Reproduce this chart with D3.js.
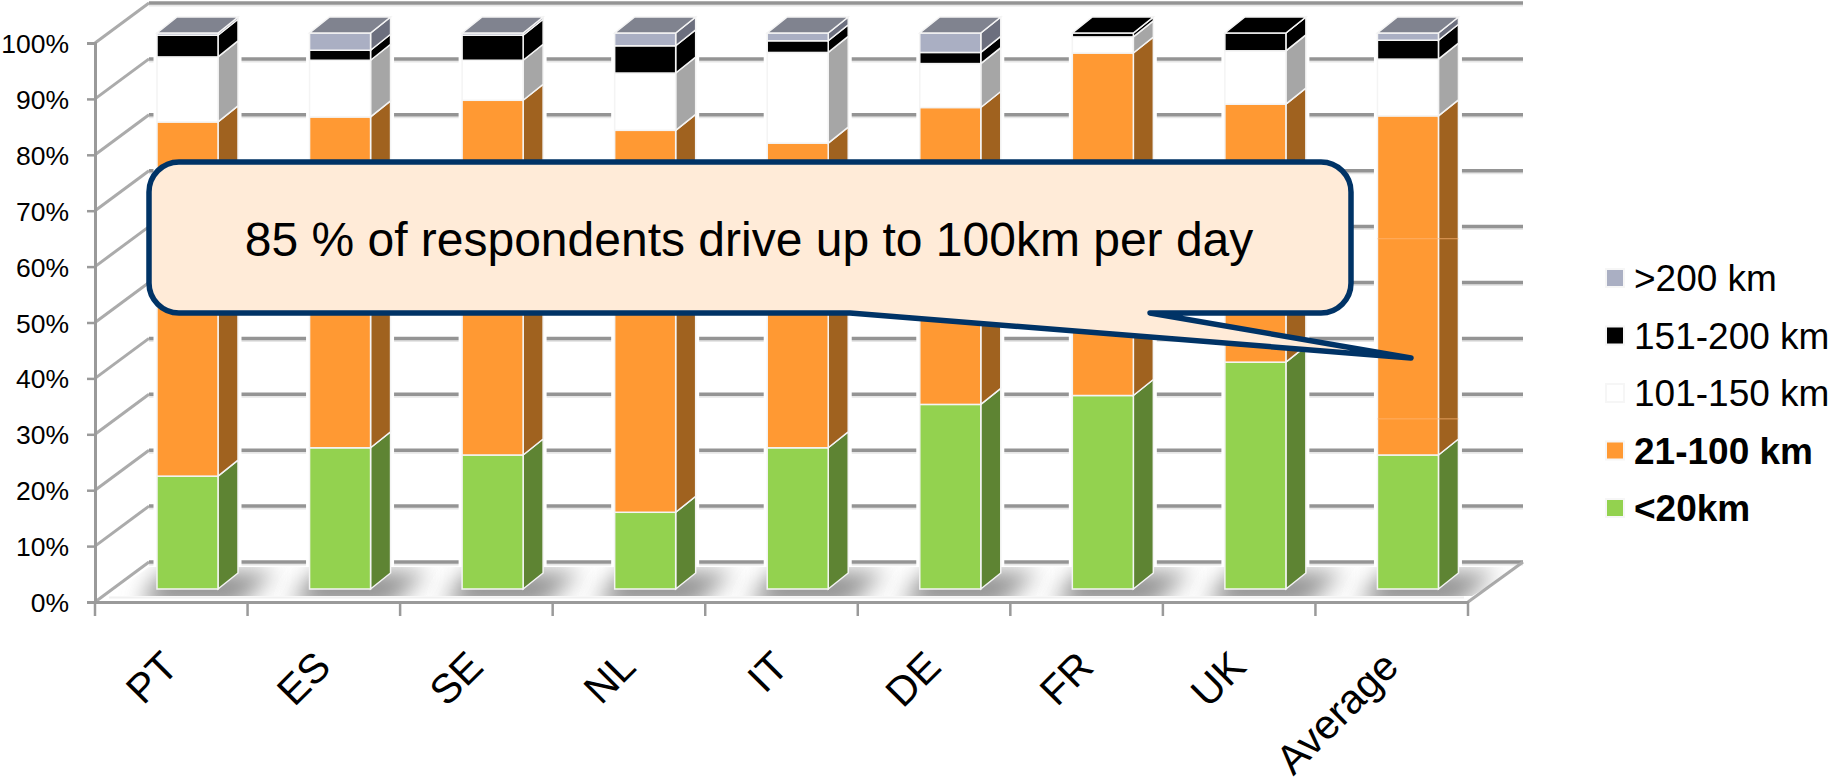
<!DOCTYPE html>
<html>
<head>
<meta charset="utf-8">
<script src="https://cdn.jsdelivr.net/npm/d3@7"></script>
<style>
  html, body { margin: 0; padding: 0; background: #fff; }
  svg { display: block; font-family: "Liberation Sans", Arial, sans-serif; }
</style>
</head>
<body>
<svg id="chart" width="1831" height="782"></svg>
<script>
// Daily driving distance by country, share of respondents (%)
const categories = ["PT", "ES", "SE", "NL", "IT", "DE", "FR", "UK", "Average"];
const under20   = [20.3, 25.4, 24.1, 13.8, 25.4, 33.2, 34.8, 40.8, 24.1];
const km21to100 = [63.7, 59.5, 63.8, 68.7, 54.8, 53.4, 61.6, 46.4, 61.0];
const km101to150 = [11.7, 10.2, 7.2, 10.3, 16.3, 7.9, 2.9, 9.6, 10.2];
const km151to200 = [3.9, 1.8, 4.5, 4.9, 2.1, 2.0, 0.7, 3.2, 3.4];
const over200   = [0.4, 3.1, 0.4, 2.3, 1.4, 3.5, 0, 0, 1.3];

const seriesNames = ["<20km", "21-100 km", "101-150 km", "151-200 km", ">200 km"];
const seriesValues = [under20, km21to100, km101to150, km151to200, over200];
const frontColors = ["#93D24F", "#FF9933", "#FFFFFF", "#000000", "#AAAFC3"];
const sideColors  = ["#5E8433", "#A0621F", "#A6A6A6", "#000000", "#6C6F7E"];
const topColors   = ["#5E8433", "#A0621F", "#A6A6A6", "#000000", "#80838F"];
const boldSeries  = ["<20km", "21-100 km"];
const yTickValues = [0, 10, 20, 30, 40, 50, 60, 70, 80, 90, 100];
const averageSeams = [30.6, 63];
const calloutText = "85 % of respondents drive up to 100km per day";

const svg = d3.select("#chart");

// Front plane of the chart box, and the shift to its back wall
const frontLeft = 95, frontRight = 1468, frontBottom = 602, frontTop = 43;
const wallDx = 54, wallDy = 40;
// Column placement inside each category band
const barInset = 62, barWidth = 61, barDx = 20, barDy = 16;

const x = d3.scaleBand().domain(categories).range([frontLeft, frontRight]);
const y = d3.scaleLinear().domain([0, 100]).range([frontBottom, frontTop]);
const yBar = d3.scaleLinear().domain([0, 100]).range([589, 33]);

const defs = svg.append("defs");
defs.append("filter").attr("id", "floorBlur")
  .attr("x", "-40%").attr("y", "-60%").attr("width", "180%").attr("height", "220%")
  .append("feGaussianBlur").attr("stdDeviation", 11);
defs.append("clipPath").attr("id", "floorClip")
  .append("path")
  .attr("d", `M${frontLeft + 14},596 L${frontLeft + wallDx},${frontBottom - wallDy + 5} ` +
             `L${frontRight + wallDx},${frontBottom - wallDy + 5} L${frontRight + 4},596 Z`);

const poly = pts => "M" + pts.map(p => p.join(",")).join("L") + "Z";

// Back wall and side wall gridlines
const grid = svg.append("g");
grid.selectAll("line.shade").data(yTickValues).join("line").attr("class", "shade")
  .attr("x1", frontLeft + wallDx).attr("x2", frontRight + wallDx + 1)
  .attr("y1", d => y(d) - wallDy + 2.5).attr("y2", d => y(d) - wallDy + 2.5)
  .attr("stroke", "#e6e6e6").attr("stroke-width", 2);
grid.selectAll("line.back").data(yTickValues).join("line").attr("class", "back")
  .attr("x1", frontLeft + wallDx).attr("x2", frontRight + wallDx + 1)
  .attr("y1", d => y(d) - wallDy).attr("y2", d => y(d) - wallDy)
  .attr("stroke", "#949494").attr("stroke-width", 3.5);
grid.selectAll("line.wall").data(yTickValues).join("line").attr("class", "wall")
  .attr("x1", frontLeft).attr("x2", frontLeft + wallDx)
  .attr("y1", d => y(d)).attr("y2", d => y(d) - wallDy)
  .attr("stroke", "#ababab").attr("stroke-width", 3);
grid.append("line")
  .attr("x1", frontRight).attr("x2", frontRight + wallDx + 1)
  .attr("y1", y(0)).attr("y2", y(0) - wallDy)
  .attr("stroke", "#ababab").attr("stroke-width", 3);
// Front lip of the floor
grid.append("line")
  .attr("x1", frontLeft + 14).attr("x2", frontRight - 4)
  .attr("y1", 597.5).attr("y2", 597.5)
  .attr("stroke", "#f0f0f0").attr("stroke-width", 2);

// Stacked 3D columns
const rows = categories.map((c, i) => {
  const row = { category: c };
  seriesNames.forEach((s, k) => { row[s] = seriesValues[k][i]; });
  return row;
});
const stacked = d3.stack().keys(seriesNames)(rows);

const bars = svg.append("g");

// White halo that keeps the gridlines clear of each column
bars.append("g").selectAll("path").data(categories).join("path")
  .attr("fill", "#fff").attr("stroke", "#fff").attr("stroke-width", 7)
  .attr("stroke-linejoin", "round")
  .attr("d", c => {
    const x0 = x(c) + barInset, x1 = x0 + barWidth;
    const t = yBar(100), b = yBar(0);
    return poly([[x0, b], [x1, b], [x1 + barDx, b - barDy], [x1 + barDx, t - barDy], [x0 + barDx, t - barDy], [x0, t]]);
  });

// Floor shadows, laid over the halo so they touch the column bases
bars.append("g").attr("clip-path", "url(#floorClip)")
  .selectAll("path").data(categories).join("path")
  .attr("filter", "url(#floorBlur)")
  .attr("fill", "#8f8f8f")
  .attr("d", c => {
    const x0 = x(c) + barInset, x1 = x0 + barWidth;
    return poly([[x0 - 18, 606], [x1 + 18, 606], [x1 + 58, 572], [x0 + 4, 572]]);
  });

stacked.forEach((layer, k) => {
  const g = bars.append("g");
  g.selectAll("path.side").data(layer).join("path").attr("class", "side")
    .attr("fill", sideColors[k]).attr("stroke", "#f4f4f4").attr("stroke-width", 1.5)
    .attr("d", d => {
      const x1 = x(d.data.category) + barInset + barWidth;
      const y0 = yBar(d[0]), y1 = yBar(d[1]);
      return poly([[x1, y0], [x1 + barDx, y0 - barDy], [x1 + barDx, y1 - barDy], [x1, y1]]);
    });
  g.selectAll("rect.front").data(layer).join("rect").attr("class", "front")
    .attr("x", d => x(d.data.category) + barInset)
    .attr("width", barWidth)
    .attr("y", d => yBar(d[1]))
    .attr("height", d => yBar(d[0]) - yBar(d[1]))
    .attr("fill", frontColors[k]).attr("stroke", "#f4f4f4").attr("stroke-width", 1.5);
});

// Top faces take the colour of the highest non-empty segment
bars.append("g").selectAll("path").data(categories).join("path")
  .attr("fill", (c, i) => topColors[d3.max(seriesValues.map((v, k) => v[i] > 0 ? k : -1))])
  .attr("stroke", "#f4f4f4").attr("stroke-width", 1.5)
  .attr("d", c => {
    const x0 = x(c) + barInset, x1 = x0 + barWidth, t = yBar(100);
    return poly([[x0, t], [x1, t], [x1 + barDx, t - barDy], [x0 + barDx, t - barDy]]);
  });

// Light seams across the orange part of the Average column
bars.append("g").selectAll("line").data(averageSeams).join("line")
  .attr("x1", x("Average") + barInset).attr("x2", x("Average") + barInset + barWidth + barDx)
  .attr("y1", d => yBar(d)).attr("y2", d => yBar(d))
  .attr("stroke", "#ffb877").attr("stroke-width", 1).attr("stroke-opacity", 0.7);

// Value axis
const yAxis = svg.append("g")
  .attr("transform", `translate(${frontLeft},0)`)
  .call(d3.axisLeft(y).tickValues(yTickValues).tickFormat(d => d + "%").tickSize(8).tickPadding(18));
yAxis.select(".domain").attr("stroke", "#9a9a9a").attr("stroke-width", 3);
yAxis.selectAll(".tick line").attr("stroke", "#9a9a9a").attr("stroke-width", 2.5);
yAxis.selectAll(".tick text")
  .attr("fill", "#000").attr("font-size", 26.5).attr("font-family", "Liberation Sans")
  .attr("dy", "0.36em");

// Category axis: tick marks sit on band edges, labels on band centres
svg.append("g").selectAll("line")
  .data(categories.concat("end")).join("line")
  .attr("x1", c => c === "end" ? frontRight : x(c))
  .attr("x2", c => c === "end" ? frontRight : x(c))
  .attr("y1", frontBottom).attr("y2", 616)
  .attr("stroke", "#9a9a9a").attr("stroke-width", 2.5);
const xAxis = svg.append("g")
  .attr("transform", `translate(0,${frontBottom})`)
  .call(d3.axisBottom(x).tickSize(0).tickPadding(0));
xAxis.select(".domain").attr("stroke", "#9a9a9a").attr("stroke-width", 3);
xAxis.selectAll(".tick text")
  .attr("fill", "#000").attr("font-size", 41).attr("font-family", "Liberation Sans")
  .attr("text-anchor", "end")
  .attr("dy", 0).attr("y", 0)
  .attr("transform", "translate(9,67) rotate(-45)");

// Legend
const legendRows = [">200 km", "151-200 km", "101-150 km", "21-100 km", "<20km"];
const legendY = d3.scalePoint().domain(legendRows).range([278, 508]);
const legend = svg.append("g").selectAll("g").data(legendRows).join("g")
  .attr("transform", d => `translate(1606,${legendY(d)})`);
legend.append("rect")
  .attr("x", 0).attr("y", -9).attr("width", 18).attr("height", 18)
  .attr("fill", d => frontColors[seriesNames.indexOf(d)])
  .attr("stroke", "#f6f6f6").attr("stroke-width", 2);
legend.append("text")
  .attr("x", 28).attr("y", 0).attr("dy", "0.36em")
  .attr("font-size", 37)
  .attr("font-weight", d => boldSeries.includes(d) ? "bold" : "normal")
  .attr("fill", "#000")
  .text(d => d);

// Callout box with its pointer toward the Average column
const box = { l: 149, r: 1351, t: 162, b: 313, rad: 30 };
const tip = [1411, 358], baseA = 850, baseB = 1150;
const calloutPath = d3.path();
calloutPath.moveTo(box.l + box.rad, box.t);
calloutPath.lineTo(box.r - box.rad, box.t);
calloutPath.arcTo(box.r, box.t, box.r, box.t + box.rad, box.rad);
calloutPath.lineTo(box.r, box.b - box.rad);
calloutPath.arcTo(box.r, box.b, box.r - box.rad, box.b, box.rad);
calloutPath.lineTo(baseB, box.b);
calloutPath.lineTo(tip[0], tip[1]);
calloutPath.lineTo(baseA, box.b);
calloutPath.lineTo(box.l + box.rad, box.b);
calloutPath.arcTo(box.l, box.b, box.l, box.b - box.rad, box.rad);
calloutPath.lineTo(box.l, box.t + box.rad);
calloutPath.arcTo(box.l, box.t, box.l + box.rad, box.t, box.rad);
calloutPath.closePath();
svg.append("path")
  .attr("d", calloutPath.toString())
  .attr("fill", "#FFEBD8").attr("stroke", "#003366")
  .attr("stroke-width", 5.5).attr("stroke-linejoin", "round");
svg.append("text")
  .attr("x", (box.l + box.r) / 2 - 1).attr("y", 239).attr("dy", "0.36em")
  .attr("text-anchor", "middle")
  .attr("font-size", 48).attr("fill", "#000")
  .text(calloutText);
</script>
</body>
</html>
